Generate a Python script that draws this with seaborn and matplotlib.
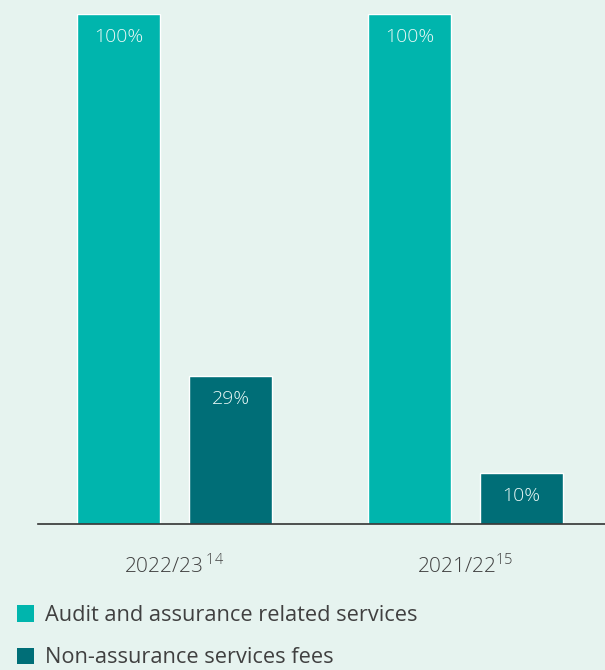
import matplotlib
matplotlib.use("Agg")
import matplotlib.pyplot as plt
import seaborn as sns
import pandas as pd
from matplotlib.patches import Patch

years = ["2022/23", "2021/22"]
year_labels = ["2022/23$\\,^{\\mathregular{14}}$", "2021/22$^{\\mathregular{15}}$"]
series = ["Audit and assurance related services", "Non-assurance services fees"]
audit_vals = [100, 100]
non_assurance_vals = [29, 10]

BG = "#e6f3ef"
C1 = "#00b5ad"
C2 = "#006e77"
TXT = "#404040"

df = pd.DataFrame({
    "year": years * 2,
    "series": [series[0]] * 2 + [series[1]] * 2,
    "value": audit_vals + non_assurance_vals,
})

sns.set_theme(style="white")
plt.rcParams["font.family"] = ["Open Sans", "DejaVu Sans"]
plt.rcParams["mathtext.fontset"] = "custom"
plt.rcParams["mathtext.rm"] = "Open Sans"

fig = plt.figure(figsize=(6.05, 6.70), dpi=100, facecolor=BG)
ax = fig.add_axes([38 / 605, 1 - 524 / 670, 1 - 38 / 605, (524 - 14) / 670])
ax.set_facecolor(BG)

sns.barplot(data=df, x="year", y="value", hue="series", hue_order=series,
            palette=[C1, C2], width=0.77, gap=0.26, saturation=1,
            ax=ax, legend=False)

ax.set_ylim(0, 100)
ax.set_xlim(-0.469, 1.479)
ax.set_yticks([])
ax.set_xlabel("")
ax.set_ylabel("")
for s in ["top", "right", "left"]:
    ax.spines[s].set_visible(False)
ax.spines["bottom"].set_color("#333333")
ax.spines["bottom"].set_linewidth(1.2)
ax.set_xticks(range(len(years)))
ax.set_xticklabels(year_labels, fontsize=15, color=TXT, fontweight="light")
ax.tick_params(axis="x", length=0, pad=21)

for p in ax.patches:
    h = p.get_height()
    if h <= 0:
        continue
    ax.annotate(f"{h:.0f}%", (p.get_x() + p.get_width() / 2, h),
                xytext=(0, -16.5), textcoords="offset points",
                ha="center", va="center", fontsize=14, color="#eaf8f6",
                fontweight="light")

handles = [Patch(facecolor=C1, edgecolor="none"), Patch(facecolor=C2, edgecolor="none")]
fig.legend(handles, series, loc="upper left", bbox_to_anchor=(17 / 605, 1 - 605 / 670),
           frameon=False, fontsize=15.7, labelcolor=TXT,
           handlelength=0.78, handleheight=0.78, handletextpad=0.5,
           labelspacing=0.98, borderaxespad=0, borderpad=0)

fig.savefig("out.png", dpi=100, facecolor=BG)
